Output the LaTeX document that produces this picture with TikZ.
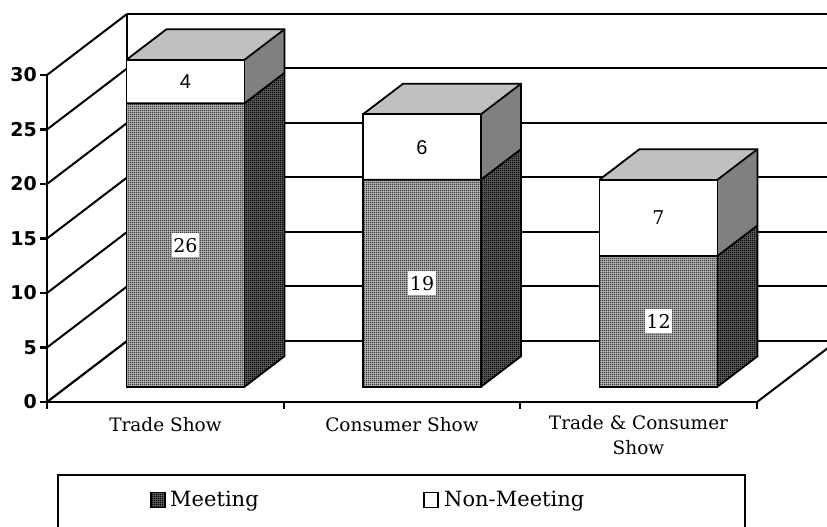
\documentclass[tikz,border=0pt]{standalone}
\usepackage{fontspec}
\setmainfont{DejaVu Serif}
\newfontfamily\axisfont{DejaVu Sans}
\newfontfamily\labsans{Liberation Sans}
\usetikzlibrary{patterns}
\pgfdeclarepatternformonly{gridfront}{\pgfpointorigin}{\pgfqpoint{2pt}{2pt}}{\pgfqpoint{2pt}{2pt}}{%
  \pgfpathrectangle{\pgfpointorigin}{\pgfqpoint{2pt}{0.5pt}}%
  \pgfpathrectangle{\pgfpointorigin}{\pgfqpoint{0.5pt}{2pt}}%
  \pgfusepath{fill}}
\pgfdeclarepatternformonly{gridside}{\pgfpointorigin}{\pgfqpoint{2pt}{2pt}}{\pgfqpoint{2pt}{2pt}}{%
  \pgfpathrectangle{\pgfpointorigin}{\pgfqpoint{2pt}{0.8pt}}%
  \pgfpathrectangle{\pgfpointorigin}{\pgfqpoint{0.8pt}{2pt}}%
  \pgfusepath{fill}}
\definecolor{topgray}{RGB}{192,192,192}
\definecolor{sidegray}{RGB}{128,128,128}
\definecolor{frontbase}{RGB}{178,178,178}
\definecolor{sidebase}{RGB}{95,95,95}
\newcommand\chartbar[3]{% #1 = left x of front face, #2 = meeting, #3 = total
  \pgfmathsetmacro\yb{386.75}%
  \pgfmathsetmacro\ym{386.75-10.9*#2}%
  \pgfmathsetmacro\yt{386.75-10.9*#3}%
  \pgfmathsetmacro\R{#1+118}%
  \path[preaction={fill=frontbase}, pattern=gridfront] (#1,\yb) rectangle (\R,\ym);
  \path[preaction={fill=sidebase}, pattern=gridside] (\R,\yb) -- (\R+40,\yb-30.5) -- (\R+40,\ym-30.5) -- (\R,\ym) -- cycle;
  \path[fill=white] (#1,\ym) rectangle (\R,\yt);
  \path[fill=sidegray] (\R,\ym) -- (\R+40,\ym-30.5) -- (\R+40,\yt-30.5) -- (\R,\yt) -- cycle;
  \path[fill=topgray] (#1,\yt) -- (\R,\yt) -- (\R+40,\yt-30.5) -- (#1+40,\yt-30.5) -- cycle;
  \draw[edge] (#1,\yb) rectangle (\R,\yt);
  \draw[edge] (#1,\ym) -- (\R,\ym) -- (\R+40,\ym-30.5);
  \draw[edge] (\R,\yb) -- (\R+40,\yb-30.5) -- (\R+40,\yt-30.5) -- (#1+40,\yt-30.5) -- (#1,\yt);
  \draw[edge] (\R,\yt) -- (\R+40,\yt-30.5);
}
\begin{document}
\begin{tikzpicture}[x=1pt,y=-1pt,
  gridline/.style={line width=2pt},
  axisline/.style={line width=2.2pt},
  edge/.style={line width=1.8pt, line join=miter},
  ylab/.style={anchor=east, font=\axisfont\bfseries\fontsize{19}{22}\selectfont, inner sep=0pt},
  xlab/.style={font=\fontsize{18.5}{25}\selectfont, align=center, inner sep=0pt},
  vlab/.style={font=\fontsize{19}{20}\selectfont, fill=white, inner xsep=1.5pt, inner ysep=0pt, minimum height=24pt},
  nlab/.style={font=\fontsize{19}{20}\selectfont, inner sep=0pt},
  nlabsans/.style={font=\labsans\fontsize{20}{22}\selectfont, inner sep=0pt},
  legtext/.style={font=\fontsize{21}{24}\selectfont, anchor=west, inner sep=0pt},
  legbox/.style={line width=1.5pt, minimum width=14pt, minimum height=15pt, inner sep=0pt}
]
\useasboundingbox (0,0) rectangle (827,527);
% back wall
\foreach \y in {341,286,232,177,123,68} {
  \draw[gridline] (127,\y) -- (840,\y);
}
\draw[axisline, line width=2.6pt] (127,14) -- (840,14);
\draw[gridline] (127,14) -- (127,341);
% side wall
\foreach \v in {5,10,...,30} {
  \draw[gridline] (47,{402-10.9*\v}) -- (127,{341-10.9*\v});
}
\draw[axisline] (47,402) -- (127,341);
\draw[axisline] (47,75) -- (47,402);
% floor
\draw[axisline] (47,402) -- (757,402);
\draw[gridline] (757,402) -- (837,341);
% ticks
\foreach \v in {0,5,...,30} {
  \draw[axisline] (40,{402-10.9*\v}) -- (47,{402-10.9*\v});
}
\foreach \x in {47,284,520,757} {
  \draw[axisline] (\x,402) -- (\x,409);
}
% y labels
\node[ylab] (y0) at (37,402) {0};
\node[ylab] (y5) at (37,347.5) {5};
\node[ylab] (y10) at (37,293) {10};
\node[ylab] (y15) at (37,238.5) {15};
\node[ylab] (y20) at (37,184) {20};
\node[ylab] (y25) at (37,129.5) {25};
\node[ylab] (y30) at (37,75) {30};
% bars
\chartbar{126.5}{26}{30}
\chartbar{363}{19}{25}
\chartbar{599.5}{12}{19}
% value labels
\node[vlab] (m1) at (185.5,245.1) {26};
\node[nlabsans] (n1) at (185.5,81.5) {4};
\node[vlab] (m2) at (422,283.2) {19};
\node[nlabsans] (n2) at (422,147.5) {6};
\node[vlab] (m3) at (658.5,321.35) {12};
\node[nlab] (n3) at (658.5,218) {7};
% category labels
\node[xlab] (c1) at (165.5,425) {Trade Show};
\node[xlab] (c2) at (402,425) {Consumer Show};
\node[xlab, anchor=north] (c3) at (638.5,415) {Trade \& Consumer\\Show};
% legend
\draw[line width=1.5pt] (58,475) rectangle (745,530);
\node[legbox, draw, preaction={fill=sidebase}, pattern=gridside] (k1) at (158,500) {};
\node[legtext] (t1) at (170,501) {Meeting};
\node[legbox, draw, fill=white] (k2) at (431,500) {};
\node[legtext] (t2) at (444,501) {Non-Meeting};
\end{tikzpicture}
\end{document}
